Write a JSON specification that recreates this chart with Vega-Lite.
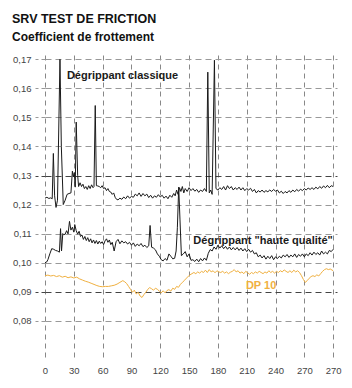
{
  "$schema": "https://vega.github.io/schema/vega-lite/v6.json",
  "width": 292,
  "height": 302,
  "autosize": "none",
  "padding": {"left": 45, "top": 55, "right": 15, "bottom": 31},
  "background": "white",
  "title": {
    "text": "SRV TEST DE FRICTION",
    "subtitle": "Coefficient de frottement",
    "anchor": "start",
    "frame": "group",
    "dx": -33,
    "offset": 11,
    "font": "Liberation Sans",
    "fontSize": 12.5,
    "fontWeight": "bold",
    "color": "#111",
    "subtitleFont": "Liberation Sans",
    "subtitleFontSize": 12,
    "subtitleFontWeight": "bold",
    "subtitleColor": "#111",
    "subtitlePadding": 7
  },
  "config": {
    "view": {"stroke": null},
    "axis": {"labelFont": "Liberation Sans", "labelColor": "#444", "labelFontSize": 9.5, "labelOverlap": false, "labelBound": false}
  },
  "layer": [
    {
      "data": {
        "values": [
          {"t": 0, "v": 0.1222, "s": "C"}, {"t": 2, "v": 0.1225, "s": "C"}, {"t": 4, "v": 0.1221, "s": "C"}, {"t": 6, "v": 0.1223, "s": "C"}, {"t": 7.5, "v": 0.122, "s": "C"}, {"t": 8.7, "v": 0.1376, "s": "C"}, {"t": 10, "v": 0.123, "s": "C"}, {"t": 11.5, "v": 0.119, "s": "C"}, {"t": 13, "v": 0.1215, "s": "C"}, {"t": 15.6, "v": 0.17, "s": "C"}, {"t": 17, "v": 0.14, "s": "C"}, {"t": 19, "v": 0.12, "s": "C"}, {"t": 21, "v": 0.1215, "s": "C"}, {"t": 23, "v": 0.1235, "s": "C"}, {"t": 25, "v": 0.1238, "s": "C"}, {"t": 27, "v": 0.124, "s": "C"}, {"t": 28.5, "v": 0.1315, "s": "C"}, {"t": 29.5, "v": 0.1295, "s": "C"}, {"t": 30.5, "v": 0.131, "s": "C"}, {"t": 31.5, "v": 0.126, "s": "C"}, {"t": 32.5, "v": 0.1484, "s": "C"}, {"t": 34, "v": 0.13, "s": "C"}, {"t": 35, "v": 0.1262, "s": "C"}, {"t": 36.5, "v": 0.1275, "s": "C"}, {"t": 38, "v": 0.1262, "s": "C"}, {"t": 39.5, "v": 0.127, "s": "C"}, {"t": 41, "v": 0.1255, "s": "C"}, {"t": 42.5, "v": 0.1262, "s": "C"}, {"t": 44, "v": 0.1252, "s": "C"}, {"t": 45.5, "v": 0.1265, "s": "C"}, {"t": 47, "v": 0.1255, "s": "C"}, {"t": 48.5, "v": 0.1268, "s": "C"}, {"t": 50, "v": 0.1258, "s": "C"}, {"t": 51, "v": 0.1262, "s": "C"}, {"t": 52.3, "v": 0.1541, "s": "C"}, {"t": 53.5, "v": 0.1265, "s": "C"}, {"t": 55, "v": 0.1264, "s": "C"}, {"t": 56.5, "v": 0.1262, "s": "C"}, {"t": 58, "v": 0.1258, "s": "C"}, {"t": 59.5, "v": 0.1265, "s": "C"}, {"t": 61, "v": 0.1255, "s": "C"}, {"t": 62.5, "v": 0.1258, "s": "C"}, {"t": 64, "v": 0.1248, "s": "C"}, {"t": 65.5, "v": 0.1255, "s": "C"}, {"t": 67, "v": 0.1245, "s": "C"}, {"t": 68.5, "v": 0.1243, "s": "C"}, {"t": 70, "v": 0.1235, "s": "C"}, {"t": 71.5, "v": 0.124, "s": "C"}, {"t": 73, "v": 0.1225, "s": "C"}, {"t": 74.5, "v": 0.1218, "s": "C"}, {"t": 76, "v": 0.1216, "s": "C"}, {"t": 78, "v": 0.1222, "s": "C"}, {"t": 80, "v": 0.1218, "s": "C"}, {"t": 82, "v": 0.1226, "s": "C"}, {"t": 84, "v": 0.122, "s": "C"}, {"t": 86, "v": 0.123, "s": "C"}, {"t": 88, "v": 0.1222, "s": "C"}, {"t": 90, "v": 0.1228, "s": "C"}, {"t": 92, "v": 0.1225, "s": "C"}, {"t": 94, "v": 0.1236, "s": "C"}, {"t": 96, "v": 0.123, "s": "C"}, {"t": 98, "v": 0.124, "s": "C"}, {"t": 100, "v": 0.1228, "s": "C"}, {"t": 102, "v": 0.1238, "s": "C"}, {"t": 104, "v": 0.123, "s": "C"}, {"t": 106, "v": 0.1236, "s": "C"}, {"t": 108, "v": 0.1224, "s": "C"}, {"t": 110, "v": 0.1232, "s": "C"}, {"t": 112, "v": 0.1222, "s": "C"}, {"t": 114, "v": 0.123, "s": "C"}, {"t": 116, "v": 0.1225, "s": "C"}, {"t": 118, "v": 0.1234, "s": "C"}, {"t": 120, "v": 0.1226, "s": "C"}, {"t": 122, "v": 0.1232, "s": "C"}, {"t": 124, "v": 0.1222, "s": "C"}, {"t": 126, "v": 0.1229, "s": "C"}, {"t": 128, "v": 0.122, "s": "C"}, {"t": 130, "v": 0.1232, "s": "C"}, {"t": 132, "v": 0.1225, "s": "C"}, {"t": 134, "v": 0.1238, "s": "C"}, {"t": 135.5, "v": 0.123, "s": "C"}, {"t": 137, "v": 0.125, "s": "C"}, {"t": 138.5, "v": 0.1235, "s": "C"}, {"t": 140, "v": 0.1258, "s": "C"}, {"t": 141.5, "v": 0.1245, "s": "C"}, {"t": 143, "v": 0.1262, "s": "C"}, {"t": 144.5, "v": 0.124, "s": "C"}, {"t": 146, "v": 0.1255, "s": "C"}, {"t": 148, "v": 0.1245, "s": "C"}, {"t": 150, "v": 0.1258, "s": "C"}, {"t": 152, "v": 0.1248, "s": "C"}, {"t": 154, "v": 0.1255, "s": "C"}, {"t": 156, "v": 0.1246, "s": "C"}, {"t": 158, "v": 0.1252, "s": "C"}, {"t": 160, "v": 0.1242, "s": "C"}, {"t": 162, "v": 0.125, "s": "C"}, {"t": 164, "v": 0.1245, "s": "C"}, {"t": 166, "v": 0.1255, "s": "C"}, {"t": 168, "v": 0.1245, "s": "C"}, {"t": 169.5, "v": 0.1656, "s": "C"}, {"t": 171, "v": 0.124, "s": "C"}, {"t": 172.5, "v": 0.125, "s": "C"}, {"t": 174, "v": 0.1235, "s": "C"}, {"t": 176.4, "v": 0.1697, "s": "C"}, {"t": 178, "v": 0.1255, "s": "C"}, {"t": 180, "v": 0.125, "s": "C"}, {"t": 182, "v": 0.1258, "s": "C"}, {"t": 184, "v": 0.1252, "s": "C"}, {"t": 186, "v": 0.1262, "s": "C"}, {"t": 188, "v": 0.125, "s": "C"}, {"t": 190, "v": 0.1265, "s": "C"}, {"t": 192, "v": 0.1255, "s": "C"}, {"t": 194, "v": 0.1262, "s": "C"}, {"t": 196, "v": 0.125, "s": "C"}, {"t": 198, "v": 0.1258, "s": "C"}, {"t": 200, "v": 0.1252, "s": "C"}, {"t": 202, "v": 0.126, "s": "C"}, {"t": 204, "v": 0.125, "s": "C"}, {"t": 206, "v": 0.1258, "s": "C"}, {"t": 208, "v": 0.1248, "s": "C"}, {"t": 210, "v": 0.1255, "s": "C"}, {"t": 212, "v": 0.125, "s": "C"}, {"t": 214, "v": 0.1256, "s": "C"}, {"t": 216, "v": 0.1245, "s": "C"}, {"t": 218, "v": 0.1252, "s": "C"}, {"t": 220, "v": 0.124, "s": "C"}, {"t": 222, "v": 0.1248, "s": "C"}, {"t": 224, "v": 0.1243, "s": "C"}, {"t": 226, "v": 0.125, "s": "C"}, {"t": 228, "v": 0.1242, "s": "C"}, {"t": 230, "v": 0.1248, "s": "C"}, {"t": 232, "v": 0.1244, "s": "C"}, {"t": 234, "v": 0.125, "s": "C"}, {"t": 236, "v": 0.1245, "s": "C"}, {"t": 238, "v": 0.1252, "s": "C"}, {"t": 240, "v": 0.1246, "s": "C"}, {"t": 242, "v": 0.125, "s": "C"}, {"t": 244, "v": 0.124, "s": "C"}, {"t": 246, "v": 0.1246, "s": "C"}, {"t": 248, "v": 0.1238, "s": "C"}, {"t": 250, "v": 0.1245, "s": "C"}, {"t": 252, "v": 0.124, "s": "C"}, {"t": 254, "v": 0.1248, "s": "C"}, {"t": 256, "v": 0.1242, "s": "C"}, {"t": 258, "v": 0.125, "s": "C"}, {"t": 260, "v": 0.1244, "s": "C"}, {"t": 262, "v": 0.1252, "s": "C"}, {"t": 264, "v": 0.1246, "s": "C"}, {"t": 266, "v": 0.1253, "s": "C"}, {"t": 268, "v": 0.1248, "s": "C"}, {"t": 270, "v": 0.1255, "s": "C"}, {"t": 272, "v": 0.125, "s": "C"}, {"t": 274, "v": 0.1257, "s": "C"}, {"t": 276, "v": 0.1252, "s": "C"}, {"t": 278, "v": 0.1258, "s": "C"}, {"t": 280, "v": 0.1252, "s": "C"}, {"t": 282, "v": 0.126, "s": "C"}, {"t": 284, "v": 0.1254, "s": "C"}, {"t": 286, "v": 0.1262, "s": "C"}, {"t": 288, "v": 0.1256, "s": "C"}, {"t": 290, "v": 0.1264, "s": "C"}, {"t": 292, "v": 0.1258, "s": "C"}, {"t": 294, "v": 0.1266, "s": "C"}, {"t": 296, "v": 0.1258, "s": "C"}, {"t": 298, "v": 0.1265, "s": "C"}, {"t": 300, "v": 0.1262, "s": "C"},

          {"t": 0, "v": 0.1, "s": "H"}, {"t": 1.7, "v": 0.1002, "s": "H"}, {"t": 3, "v": 0.101, "s": "H"}, {"t": 5, "v": 0.103, "s": "H"}, {"t": 7, "v": 0.1048, "s": "H"}, {"t": 9, "v": 0.1046, "s": "H"}, {"t": 11, "v": 0.1042, "s": "H"}, {"t": 13, "v": 0.104, "s": "H"}, {"t": 15, "v": 0.1036, "s": "H"}, {"t": 16.2, "v": 0.1117, "s": "H"}, {"t": 17.2, "v": 0.104, "s": "H"}, {"t": 18.5, "v": 0.11, "s": "H"}, {"t": 19.5, "v": 0.1096, "s": "H"}, {"t": 21, "v": 0.1098, "s": "H"}, {"t": 22.5, "v": 0.111, "s": "H"}, {"t": 24, "v": 0.1099, "s": "H"}, {"t": 25.5, "v": 0.1142, "s": "H"}, {"t": 27, "v": 0.1112, "s": "H"}, {"t": 28.5, "v": 0.1122, "s": "H"}, {"t": 30, "v": 0.1105, "s": "H"}, {"t": 31, "v": 0.1131, "s": "H"}, {"t": 32.5, "v": 0.111, "s": "H"}, {"t": 34, "v": 0.1098, "s": "H"}, {"t": 35.5, "v": 0.1108, "s": "H"}, {"t": 37, "v": 0.109, "s": "H"}, {"t": 38.5, "v": 0.1095, "s": "H"}, {"t": 40, "v": 0.108, "s": "H"}, {"t": 41.5, "v": 0.109, "s": "H"}, {"t": 43, "v": 0.1076, "s": "H"}, {"t": 44.5, "v": 0.1086, "s": "H"}, {"t": 46, "v": 0.1072, "s": "H"}, {"t": 47.5, "v": 0.1082, "s": "H"}, {"t": 49, "v": 0.1068, "s": "H"}, {"t": 50.5, "v": 0.1078, "s": "H"}, {"t": 52, "v": 0.1066, "s": "H"}, {"t": 53.5, "v": 0.1076, "s": "H"}, {"t": 55, "v": 0.1064, "s": "H"}, {"t": 56.5, "v": 0.1074, "s": "H"}, {"t": 58, "v": 0.1066, "s": "H"}, {"t": 59.5, "v": 0.1072, "s": "H"}, {"t": 61, "v": 0.1062, "s": "H"}, {"t": 62.5, "v": 0.1075, "s": "H"}, {"t": 64, "v": 0.1082, "s": "H"}, {"t": 65.5, "v": 0.107, "s": "H"}, {"t": 67, "v": 0.1078, "s": "H"}, {"t": 68.5, "v": 0.1062, "s": "H"}, {"t": 70, "v": 0.107, "s": "H"}, {"t": 72, "v": 0.104, "s": "H"}, {"t": 74, "v": 0.1072, "s": "H"}, {"t": 76, "v": 0.108, "s": "H"}, {"t": 78, "v": 0.1065, "s": "H"}, {"t": 80, "v": 0.1075, "s": "H"}, {"t": 82, "v": 0.1068, "s": "H"}, {"t": 84, "v": 0.1072, "s": "H"}, {"t": 86, "v": 0.1064, "s": "H"}, {"t": 88, "v": 0.107, "s": "H"}, {"t": 90, "v": 0.106, "s": "H"}, {"t": 92, "v": 0.1068, "s": "H"}, {"t": 94, "v": 0.1056, "s": "H"}, {"t": 96, "v": 0.1064, "s": "H"}, {"t": 98, "v": 0.1058, "s": "H"}, {"t": 100, "v": 0.1066, "s": "H"}, {"t": 102, "v": 0.1055, "s": "H"}, {"t": 104, "v": 0.106, "s": "H"}, {"t": 106, "v": 0.1052, "s": "H"}, {"t": 108, "v": 0.1058, "s": "H"}, {"t": 109.4, "v": 0.1128, "s": "H"}, {"t": 111, "v": 0.1053, "s": "H"}, {"t": 113, "v": 0.105, "s": "H"}, {"t": 115, "v": 0.1044, "s": "H"}, {"t": 117, "v": 0.103, "s": "H"}, {"t": 119, "v": 0.1022, "s": "H"}, {"t": 121, "v": 0.101, "s": "H"}, {"t": 123, "v": 0.1006, "s": "H"}, {"t": 125, "v": 0.1014, "s": "H"}, {"t": 127, "v": 0.1008, "s": "H"}, {"t": 129, "v": 0.103, "s": "H"}, {"t": 131, "v": 0.1022, "s": "H"}, {"t": 133, "v": 0.1013, "s": "H"}, {"t": 135, "v": 0.1015, "s": "H"}, {"t": 136.5, "v": 0.104, "s": "H"}, {"t": 137.8, "v": 0.112, "s": "H"}, {"t": 139.2, "v": 0.126, "s": "H"}, {"t": 140.5, "v": 0.115, "s": "H"}, {"t": 142, "v": 0.1024, "s": "H"}, {"t": 144, "v": 0.103, "s": "H"}, {"t": 146, "v": 0.1038, "s": "H"}, {"t": 148, "v": 0.102, "s": "H"}, {"t": 150, "v": 0.103, "s": "H"}, {"t": 152, "v": 0.1008, "s": "H"}, {"t": 154, "v": 0.101, "s": "H"}, {"t": 156, "v": 0.1004, "s": "H"}, {"t": 158, "v": 0.1012, "s": "H"}, {"t": 160, "v": 0.1003, "s": "H"}, {"t": 162, "v": 0.1014, "s": "H"}, {"t": 164, "v": 0.1006, "s": "H"}, {"t": 166, "v": 0.1016, "s": "H"}, {"t": 168, "v": 0.1008, "s": "H"}, {"t": 170, "v": 0.1032, "s": "H"}, {"t": 172, "v": 0.1045, "s": "H"}, {"t": 174, "v": 0.104, "s": "H"}, {"t": 176, "v": 0.1054, "s": "H"}, {"t": 178, "v": 0.1046, "s": "H"}, {"t": 180, "v": 0.106, "s": "H"}, {"t": 182, "v": 0.105, "s": "H"}, {"t": 184, "v": 0.1058, "s": "H"}, {"t": 186, "v": 0.1048, "s": "H"}, {"t": 188, "v": 0.1056, "s": "H"}, {"t": 190, "v": 0.1046, "s": "H"}, {"t": 192, "v": 0.1054, "s": "H"}, {"t": 194, "v": 0.1044, "s": "H"}, {"t": 196, "v": 0.1052, "s": "H"}, {"t": 198, "v": 0.1044, "s": "H"}, {"t": 200, "v": 0.1052, "s": "H"}, {"t": 202, "v": 0.1042, "s": "H"}, {"t": 204, "v": 0.105, "s": "H"}, {"t": 206, "v": 0.104, "s": "H"}, {"t": 208, "v": 0.1048, "s": "H"}, {"t": 210, "v": 0.1038, "s": "H"}, {"t": 212, "v": 0.1046, "s": "H"}, {"t": 214, "v": 0.1036, "s": "H"}, {"t": 216, "v": 0.1042, "s": "H"}, {"t": 218, "v": 0.103, "s": "H"}, {"t": 220, "v": 0.1034, "s": "H"}, {"t": 222, "v": 0.102, "s": "H"}, {"t": 224, "v": 0.1026, "s": "H"}, {"t": 226, "v": 0.1016, "s": "H"}, {"t": 228, "v": 0.1024, "s": "H"}, {"t": 230, "v": 0.1012, "s": "H"}, {"t": 232, "v": 0.1022, "s": "H"}, {"t": 234, "v": 0.1014, "s": "H"}, {"t": 236, "v": 0.1024, "s": "H"}, {"t": 238, "v": 0.101, "s": "H"}, {"t": 240, "v": 0.102, "s": "H"}, {"t": 242, "v": 0.1014, "s": "H"}, {"t": 244, "v": 0.1022, "s": "H"}, {"t": 246, "v": 0.1016, "s": "H"}, {"t": 248, "v": 0.1026, "s": "H"}, {"t": 250, "v": 0.102, "s": "H"}, {"t": 252, "v": 0.1028, "s": "H"}, {"t": 254, "v": 0.1018, "s": "H"}, {"t": 256, "v": 0.1026, "s": "H"}, {"t": 258, "v": 0.102, "s": "H"}, {"t": 260, "v": 0.103, "s": "H"}, {"t": 262, "v": 0.1018, "s": "H"}, {"t": 264, "v": 0.1028, "s": "H"}, {"t": 266, "v": 0.1022, "s": "H"}, {"t": 268, "v": 0.103, "s": "H"}, {"t": 270, "v": 0.102, "s": "H"}, {"t": 272, "v": 0.103, "s": "H"}, {"t": 274, "v": 0.1024, "s": "H"}, {"t": 276, "v": 0.1034, "s": "H"}, {"t": 278, "v": 0.1026, "s": "H"}, {"t": 280, "v": 0.1036, "s": "H"}, {"t": 282, "v": 0.1028, "s": "H"}, {"t": 284, "v": 0.1034, "s": "H"}, {"t": 286, "v": 0.1026, "s": "H"}, {"t": 288, "v": 0.104, "s": "H"}, {"t": 290, "v": 0.103, "s": "H"}, {"t": 292, "v": 0.1036, "s": "H"}, {"t": 294, "v": 0.103, "s": "H"}, {"t": 296, "v": 0.1042, "s": "H"}, {"t": 298, "v": 0.1038, "s": "H"}, {"t": 300, "v": 0.1046, "s": "H"},

          {"t": 0, "v": 0.0955, "s": "D"}, {"t": 3, "v": 0.0957, "s": "D"}, {"t": 6, "v": 0.0954, "s": "D"}, {"t": 9, "v": 0.0956, "s": "D"}, {"t": 12, "v": 0.0952, "s": "D"}, {"t": 15, "v": 0.0955, "s": "D"}, {"t": 18, "v": 0.095, "s": "D"}, {"t": 21, "v": 0.0953, "s": "D"}, {"t": 24, "v": 0.0948, "s": "D"}, {"t": 27, "v": 0.0951, "s": "D"}, {"t": 30, "v": 0.0947, "s": "D"}, {"t": 33, "v": 0.095, "s": "D"}, {"t": 36, "v": 0.0944, "s": "D"}, {"t": 39, "v": 0.094, "s": "D"}, {"t": 42, "v": 0.0936, "s": "D"}, {"t": 45, "v": 0.0933, "s": "D"}, {"t": 48, "v": 0.0929, "s": "D"}, {"t": 51, "v": 0.0925, "s": "D"}, {"t": 54, "v": 0.0921, "s": "D"}, {"t": 57, "v": 0.0918, "s": "D"}, {"t": 60, "v": 0.0917, "s": "D"}, {"t": 63, "v": 0.0918, "s": "D"}, {"t": 66, "v": 0.0918, "s": "D"}, {"t": 69, "v": 0.092, "s": "D"}, {"t": 72, "v": 0.0922, "s": "D"}, {"t": 75, "v": 0.0926, "s": "D"}, {"t": 78, "v": 0.0932, "s": "D"}, {"t": 81, "v": 0.0938, "s": "D"}, {"t": 83, "v": 0.0934, "s": "D"}, {"t": 85, "v": 0.0928, "s": "D"}, {"t": 87, "v": 0.0918, "s": "D"}, {"t": 89, "v": 0.0908, "s": "D"}, {"t": 91, "v": 0.0898, "s": "D"}, {"t": 93, "v": 0.0905, "s": "D"}, {"t": 95, "v": 0.0892, "s": "D"}, {"t": 97, "v": 0.0898, "s": "D"}, {"t": 99, "v": 0.0885, "s": "D"}, {"t": 101, "v": 0.088, "s": "D"}, {"t": 103, "v": 0.089, "s": "D"}, {"t": 105, "v": 0.0898, "s": "D"}, {"t": 107, "v": 0.0908, "s": "D"}, {"t": 109, "v": 0.0914, "s": "D"}, {"t": 111, "v": 0.091, "s": "D"}, {"t": 113, "v": 0.0905, "s": "D"}, {"t": 115, "v": 0.0912, "s": "D"}, {"t": 117, "v": 0.0908, "s": "D"}, {"t": 119, "v": 0.0902, "s": "D"}, {"t": 121, "v": 0.0896, "s": "D"}, {"t": 123, "v": 0.0903, "s": "D"}, {"t": 125, "v": 0.0896, "s": "D"}, {"t": 127, "v": 0.0904, "s": "D"}, {"t": 129, "v": 0.0907, "s": "D"}, {"t": 131, "v": 0.0902, "s": "D"}, {"t": 133, "v": 0.0912, "s": "D"}, {"t": 135, "v": 0.0908, "s": "D"}, {"t": 137, "v": 0.0918, "s": "D"}, {"t": 139, "v": 0.0915, "s": "D"}, {"t": 141, "v": 0.0925, "s": "D"}, {"t": 143, "v": 0.0932, "s": "D"}, {"t": 145, "v": 0.0938, "s": "D"}, {"t": 147, "v": 0.0946, "s": "D"}, {"t": 149, "v": 0.0952, "s": "D"}, {"t": 151, "v": 0.0958, "s": "D"}, {"t": 153, "v": 0.0962, "s": "D"}, {"t": 155, "v": 0.0966, "s": "D"}, {"t": 157, "v": 0.0962, "s": "D"}, {"t": 159, "v": 0.0968, "s": "D"}, {"t": 161, "v": 0.0964, "s": "D"}, {"t": 163, "v": 0.097, "s": "D"}, {"t": 165, "v": 0.0966, "s": "D"}, {"t": 167, "v": 0.0974, "s": "D"}, {"t": 169, "v": 0.0966, "s": "D"}, {"t": 171, "v": 0.0976, "s": "D"}, {"t": 173, "v": 0.0968, "s": "D"}, {"t": 175, "v": 0.0972, "s": "D"}, {"t": 177, "v": 0.0965, "s": "D"}, {"t": 179, "v": 0.0972, "s": "D"}, {"t": 181, "v": 0.0968, "s": "D"}, {"t": 183, "v": 0.0966, "s": "D"}, {"t": 185, "v": 0.097, "s": "D"}, {"t": 187, "v": 0.0964, "s": "D"}, {"t": 189, "v": 0.0968, "s": "D"}, {"t": 191, "v": 0.0962, "s": "D"}, {"t": 193, "v": 0.0967, "s": "D"}, {"t": 195, "v": 0.097, "s": "D"}, {"t": 197, "v": 0.0976, "s": "D"}, {"t": 199, "v": 0.0968, "s": "D"}, {"t": 201, "v": 0.0972, "s": "D"}, {"t": 203, "v": 0.0964, "s": "D"}, {"t": 205, "v": 0.0968, "s": "D"}, {"t": 207, "v": 0.0962, "s": "D"}, {"t": 209, "v": 0.097, "s": "D"}, {"t": 211, "v": 0.0965, "s": "D"}, {"t": 213, "v": 0.096, "s": "D"}, {"t": 215, "v": 0.0966, "s": "D"}, {"t": 217, "v": 0.0962, "s": "D"}, {"t": 219, "v": 0.0968, "s": "D"}, {"t": 221, "v": 0.0964, "s": "D"}, {"t": 223, "v": 0.097, "s": "D"}, {"t": 225, "v": 0.0966, "s": "D"}, {"t": 227, "v": 0.0962, "s": "D"}, {"t": 229, "v": 0.0968, "s": "D"}, {"t": 231, "v": 0.0964, "s": "D"}, {"t": 233, "v": 0.0972, "s": "D"}, {"t": 235, "v": 0.0966, "s": "D"}, {"t": 237, "v": 0.097, "s": "D"}, {"t": 239, "v": 0.0964, "s": "D"}, {"t": 241, "v": 0.097, "s": "D"}, {"t": 243, "v": 0.0966, "s": "D"}, {"t": 245, "v": 0.0972, "s": "D"}, {"t": 247, "v": 0.0968, "s": "D"}, {"t": 249, "v": 0.0975, "s": "D"}, {"t": 251, "v": 0.097, "s": "D"}, {"t": 253, "v": 0.0966, "s": "D"}, {"t": 255, "v": 0.0972, "s": "D"}, {"t": 257, "v": 0.0966, "s": "D"}, {"t": 259, "v": 0.0974, "s": "D"}, {"t": 261, "v": 0.0968, "s": "D"}, {"t": 263, "v": 0.0972, "s": "D"}, {"t": 265, "v": 0.0966, "s": "D"}, {"t": 267, "v": 0.0955, "s": "D"}, {"t": 269, "v": 0.0942, "s": "D"}, {"t": 271, "v": 0.0932, "s": "D"}, {"t": 273, "v": 0.0938, "s": "D"}, {"t": 275, "v": 0.0946, "s": "D"}, {"t": 277, "v": 0.0952, "s": "D"}, {"t": 279, "v": 0.0955, "s": "D"}, {"t": 281, "v": 0.0952, "s": "D"}, {"t": 283, "v": 0.0958, "s": "D"}, {"t": 285, "v": 0.0954, "s": "D"}, {"t": 287, "v": 0.0962, "s": "D"}, {"t": 289, "v": 0.097, "s": "D"}, {"t": 291, "v": 0.0976, "s": "D"}, {"t": 293, "v": 0.0979, "s": "D"}, {"t": 295, "v": 0.0976, "s": "D"}, {"t": 297, "v": 0.0978, "s": "D"}, {"t": 300, "v": 0.0972, "s": "D"}
        ]
      },
      "mark": {"type": "line", "strokeWidth": 1, "interpolate": "linear"},
      "encoding": {
        "x": {
          "field": "t", "type": "quantitative",
          "scale": {"domain": [0, 304], "nice": false, "zero": false},
          "axis": {
            "title": null,
            "values": [0, 30, 60, 90, 120, 150, 180, 210, 240, 270, 300],
            "tickCount": 40,
            "labelExpr": "datum.value == 300 ? '270' : datum.label",
            "labelOverlap": false,
            "labelBound": false,
            "domain": false,
            "ticks": false,
            "labelPadding": 8,
            "grid": true,
            "gridColor": "#888",
            "gridDash": [5, 4],
            "gridWidth": 1,
            "labelFlush": false
          }
        },
        "y": {
          "field": "v", "type": "quantitative",
          "scale": {"domain": [0.0675, 0.1715], "nice": false, "zero": false},
          "axis": {
            "title": null,
            "values": [0.08, 0.09, 0.1, 0.11, 0.12, 0.13, 0.14, 0.15, 0.16, 0.17],
            "tickCount": 40,
            "labelExpr": "replace(format(datum.value, '.2f'), '.', ',')",
            "labelOverlap": false,
            "labelBound": false,
            "domain": false,
            "ticks": true,
            "tickSize": 10,
            "tickDash": [4, 3],
            "tickColor": {"condition": {"test": "abs(datum.value - 0.13) < 0.001 || abs(datum.value - 0.09) < 0.001", "value": "#444"}, "value": "#999"},
            "labelPadding": 4,
            "grid": true,
            "gridColor": {"condition": {"test": "abs(datum.value - 0.13) < 0.001 || abs(datum.value - 0.09) < 0.001", "value": "#444"}, "value": "#999"},
            "gridDash": [6, 4],
            "gridWidth": 1
          }
        },
        "color": {
          "field": "s", "type": "nominal",
          "scale": {"domain": ["C", "H", "D"], "range": ["#1a1a1a", "#1a1a1a", "#f0b040"]},
          "legend": null
        }
      }
    },
    {
      "data": {
        "values": [
          {"t": 80.7, "v": 0.1642, "label": "Dégrippant classique", "s": "C"},
          {"t": 227, "v": 0.1073, "label": "Dégrippant \"haute qualité\"", "s": "H"},
          {"t": 225, "v": 0.0921, "label": "DP 10", "s": "D"}
        ]
      },
      "mark": {"type": "text", "font": "Liberation Sans", "fontWeight": "bold", "fontSize": 11, "align": "center", "baseline": "middle"},
      "encoding": {
        "x": {"field": "t", "type": "quantitative"},
        "y": {"field": "v", "type": "quantitative"},
        "text": {"field": "label"},
        "color": {"field": "s", "type": "nominal", "scale": {"domain": ["C", "H", "D"], "range": ["#000000", "#000000", "#f0a830"]}, "legend": null}
      }
    }
  ]
}
